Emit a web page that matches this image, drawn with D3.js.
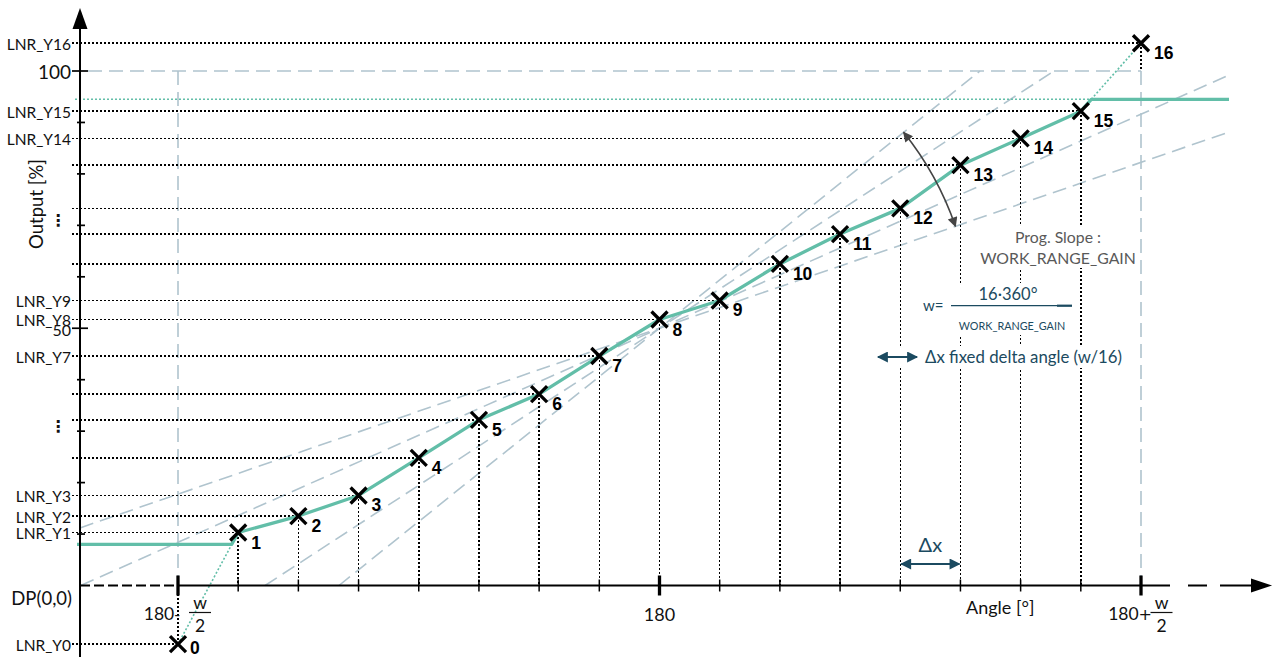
<!DOCTYPE html>
<html><head><meta charset="utf-8">
<script src="https://cdn.jsdelivr.net/npm/d3@7"></script>
<style>body{margin:0;background:#fff}svg{display:block}</style>
</head><body><svg id="chart" width="1274" height="657"></svg>
<script>
// ---------------- data ----------------
const pointIndex   = [0,1,2,3,4,5,6,7,8,9,10,11,12,13,14,15,16];
const pointNames   = ["0","1","2","3","4","5","6","7","8","9","10","11","12","13","14","15","16"];
const outputValues = [-11.4,10.3,13.5,17.5,24.8,32.2,37.2,44.6,51.7,55.4,62.5,68.3,73.3,81.7,86.9,92.2,105.4];
const levelLabels  = ["LNR_Y0","LNR_Y1","LNR_Y2","LNR_Y3","","","","LNR_Y7","LNR_Y8","LNR_Y9","","","","","LNR_Y14","LNR_Y15","LNR_Y16"];
const yTickValues  = [10,20,30,40,50,60,70,80,90,100];
const yTickLabels  = ["","","","","50","","","","","100"];
const xTickIndex   = [0,8,16];
const xTickLabels  = ["180-","180","180+"];
const clampLevels  = [8.0,94.5];
const fanCenter    = [8,50];
const fanSlopes    = [9.39,7.63,5.2,4.03];
const ellipsisLevels = [71,31];

// ---------------- setup ----------------
const svg = d3.select("#chart");
const x = d3.scaleLinear().domain([0,16]).range([178,1141]);
const y = d3.scaleLinear().domain([0,100]).range([585.5,71]);
const axisX = 80, axisEndX = 1272, axisTopY = 8, plotRight = 1229;
const iLeft = x.invert(axisX), iRight = x.invert(plotRight);
const pts = pointIndex.map((d,k)=>({i:d,v:outputValues[k],name:pointNames[k],lab:levelLabels[k]}));

const GREEN="#62bea8", GRAY="#b0c4ce", NAVY="#1b4a60", FONT="Lato, 'Open Sans', sans-serif";

const defs = svg.append("defs");
function marker(id,color,w,h){
  defs.append("marker").attr("id",id).attr("viewBox","0 0 10 10").attr("refX",9).attr("refY",5)
    .attr("markerWidth",w).attr("markerHeight",h).attr("markerUnits","userSpaceOnUse")
    .attr("orient","auto-start-reverse")
    .append("path").attr("d","M0,0L10,5L0,10z").attr("fill",color);
}
marker("arcHead","#444",12,10);
marker("navyHead",NAVY,12,11);

const dotted = sel => sel.attr("stroke","#000").attr("stroke-width",1.5).attr("stroke-dasharray","2,2")
  .attr("shape-rendering","crispEdges").attr("fill","none");
const dashed = sel => sel.attr("stroke",GRAY).attr("stroke-width",1.6).attr("stroke-dasharray","14,7").attr("fill","none");

// ---------------- fan (slope) lines ----------------
const gFan = svg.append("g");
fanSlopes.forEach(s=>{
  const a = Math.max(iLeft, fanCenter[0]-fanCenter[1]/s);
  const b = Math.min(iRight, fanCenter[0]+(100-fanCenter[1])/s);
  gFan.append("line")
    .attr("x1",x(a)).attr("y1",y(fanCenter[1]+s*(a-fanCenter[0])))
    .attr("x2",x(b)).attr("y2",y(fanCenter[1]+s*(b-fanCenter[0])))
    .call(dashed);
});
svg.append("line").attr("x1",axisX+8).attr("x2",x(16)).attr("y1",y(100)).attr("y2",y(100)).call(dashed);
[0,16].forEach(i=>svg.append("line").attr("x1",x(i)).attr("x2",x(i)).attr("y1",y(100)).attr("y2",y(0)).call(dashed));

// ---------------- black dotted guides ----------------
const gGuide = svg.append("g");
pts.forEach(p=>{
  gGuide.append("line").attr("x1",72).attr("x2",x(p.i)).attr("y1",y(p.v)).attr("y2",y(p.v)).call(dotted);
  let y1 = y(p.v), y2 = y(0);
  if (p.v > 100) y2 = y(100);
  gGuide.append("line").attr("x1",x(p.i)).attr("x2",x(p.i)).attr("y1",y1).attr("y2",y2).call(dotted);
});

// ---------------- clamped output curve ----------------
const p0=pts[0],p1=pts[1],p15=pts[15],p16=pts[16];
const iLow  = p0.i + (clampLevels[0]-p0.v)/(p1.v-p0.v)*(p1.i-p0.i);
const iHigh = p15.i + (clampLevels[1]-p15.v)/(p16.v-p15.v)*(p16.i-p15.i);
const curve = [[iLeft-0.05,clampLevels[0]],[iLow,clampLevels[0]]]
  .concat(pts.slice(1,16).map(p=>[p.i,p.v]))
  .concat([[iHigh,clampLevels[1]],[iRight,clampLevels[1]]]);
const line = d3.line().x(d=>x(d[0])).y(d=>y(d[1]));
const gDotG = svg.append("g").attr("stroke",GREEN).attr("stroke-width",1.6).attr("stroke-dasharray","2,2").attr("fill","none");
gDotG.append("path").attr("d",line([[p0.i,p0.v],[iLow,clampLevels[0]]]));
gDotG.append("path").attr("d",line([[iHigh,clampLevels[1]],[p16.i,p16.v]]));
gDotG.append("path").attr("d",line([[x.invert(75),clampLevels[1]],[iHigh,clampLevels[1]]]));
svg.append("path").attr("d",line(curve)).attr("fill","none").attr("stroke",GREEN).attr("stroke-width",3.3).attr("stroke-linejoin","round");

// ---------------- axes ----------------
const gAx = svg.append("g").attr("stroke","#000");
gAx.append("line").attr("x1",axisX).attr("x2",axisX).attr("y1",axisTopY+18).attr("y2",657).attr("stroke-width",2);
svg.append("path").attr("d",`M${axisX},${axisTopY}L${axisX-7.5},${axisTopY+21}L${axisX+7.5},${axisTopY+21}Z`).attr("fill","#000");
yTickValues.forEach((v,k)=>{
  const big = yTickLabels[k]!=="";
  gAx.append("line").attr("x1",big?72:77).attr("x2",big?88:85).attr("y1",y(v)).attr("y2",y(v)).attr("stroke-width",1.7);
});
const ay = y(0);
gAx.append("line").attr("x1",axisX).attr("x2",x(0)).attr("y1",ay).attr("y2",ay).attr("stroke-width",2).attr("stroke-dasharray","10,4");
gAx.append("line").attr("x1",x(0)).attr("x2",1170).attr("y1",ay).attr("y2",ay).attr("stroke-width",2);
gAx.append("line").attr("x1",1188).attr("x2",1207).attr("y1",ay).attr("y2",ay).attr("stroke-width",2);
gAx.append("line").attr("x1",1220).attr("x2",1255).attr("y1",ay).attr("y2",ay).attr("stroke-width",2);
svg.append("path").attr("d",`M${axisEndX},${ay}L${axisEndX-21},${ay-7}L${axisEndX-21},${ay+7}Z`).attr("fill","#000");
pts.slice(1,16).forEach(p=>{
  if (p.i===8) return;
  gAx.append("line").attr("x1",x(p.i)).attr("x2",x(p.i)).attr("y1",ay-6).attr("y2",ay+6).attr("stroke-width",1.5);
});
xTickIndex.forEach(i=>{
  gAx.append("line").attr("x1",x(i)).attr("x2",x(i)).attr("y1",ay-10).attr("y2",ay+10).attr("stroke-width",3.3);
});

// ---------------- markers ----------------
const gM = svg.append("g").attr("stroke","#000").attr("stroke-width",3.3).attr("stroke-linecap","butt");
pts.forEach(p=>{
  const cx=x(p.i), cy=y(p.v), r=8;
  gM.append("path").attr("d",`M${cx-r},${cy-r}L${cx+r},${cy+r}M${cx-r},${cy+r}L${cx+r},${cy-r}`);
});
svg.append("g").selectAll("text").data(pts).join("text")
  .attr("x",p=>x(p.i)+(p.i===0?12:13)).attr("y",p=>y(p.v)+(p.i===0?10:16))
  .attr("font-family","'Liberation Sans', Arial, sans-serif").attr("font-weight","bold").attr("font-size",17.5)
  .text(p=>p.name);

// ---------------- y labels ----------------
const gY = svg.append("g").attr("font-family",FONT).attr("fill","#111").attr("text-anchor","end").attr("dominant-baseline","central");
pts.filter(p=>p.lab!=="").forEach(p=>gY.append("text").attr("x",71).attr("y",y(p.v)+0.5).attr("font-size",15.5).text(p.lab));
yTickValues.forEach((v,k)=>{ if(yTickLabels[k]) gY.append("text").attr("x",71).attr("y",y(v)+(v===50?1.5:0.5)).attr("font-size",v===100?19:16).text(yTickLabels[k]); });
ellipsisLevels.forEach(v=>gY.append("text").attr("x",66).attr("y",y(v)).attr("font-size",16).attr("font-weight","bold").attr("font-family","'DejaVu Sans'").text("⋮"));
gY.append("text").attr("transform",`translate(36,204) rotate(-90)`).attr("text-anchor","middle").attr("font-size",18.5).text("Output [%]");
gY.append("text").attr("x",72).attr("y",598).attr("font-size",18.5).text("DP(0,0)");

// ---------------- x labels ----------------
const gX = svg.append("g").attr("font-family",FONT).attr("fill","#111").attr("font-size",17.5);
gX.append("text").attr("x",x(8)).attr("y",621).attr("text-anchor","middle").attr("font-size",18).text(xTickLabels[1]);
[[0,x(0)+2,x(0)+22],[2,x(16)+11,x(16)+20.5]].forEach(([k,endX,fx])=>{
  const lbl = xTickLabels[k];
  const t = gX.append("text").attr("x",endX).attr("y",620).attr("text-anchor","end");
  t.append("tspan").text(lbl.slice(0,-1));
  t.append("tspan").attr("font-family","'DejaVu Sans'").attr("font-size",16).text(lbl.slice(-1));
  gX.append("text").attr("x",fx).attr("y",609).attr("text-anchor","middle").text("w");
  gX.append("line").attr("x1",fx-11).attr("x2",fx+11).attr("y1",612.5).attr("y2",612.5).attr("stroke","#111").attr("stroke-width",1.2);
  gX.append("text").attr("x",fx).attr("y",632).attr("text-anchor","middle").text("2");
});
gX.append("text").attr("x",966).attr("y",614).attr("font-size",18).text("Angle [°]");

// ---------------- slope arc ----------------
const cx0=x(fanCenter[0]), cy0=y(fanCenter[1]), R=313;
const pxSlope = s => s*(y(0)-y(1))/(x(1)-x(0));
const ang = [fanSlopes[0],fanSlopes[3]].map(s=>Math.atan(pxSlope(s)));
const ap = ang.map(a=>[cx0+R*Math.cos(a), cy0-R*Math.sin(a)]);
svg.append("path").attr("d",`M${ap[0][0]},${ap[0][1]}A${R},${R} 0 0 1 ${ap[1][0]},${ap[1][1]}`)
  .attr("fill","none").attr("stroke","#444").attr("stroke-width",1.6)
  .attr("marker-start","url(#arcHead)").attr("marker-end","url(#arcHead)");

// ---------------- annotation boxes ----------------
const gA = svg.append("g").attr("font-family",FONT);
gA.append("rect").attr("x",978).attr("y",226).attr("width",162).attr("height",42).attr("fill","#fff");
gA.append("text").attr("x",1058).attr("y",243).attr("text-anchor","middle").attr("fill","#595959").attr("font-size",15.8).text("Prog. Slope :");
gA.append("text").attr("x",1058).attr("y",264).attr("text-anchor","middle").attr("fill","#595959").attr("font-size",15.8).text("WORK_RANGE_GAIN");
gA.append("rect").attr("x",920).attr("y",283).attr("width",156).attr("height",52).attr("fill","#fff");
gA.append("text").attr("x",923).attr("y",311).attr("fill",NAVY).attr("font-size",15).text("w=");
gA.append("text").attr("x",1008).attr("y",300).attr("text-anchor","middle").attr("fill",NAVY).attr("font-size",16.5).text("16·360°");
gA.append("line").attr("x1",951).attr("x2",1072).attr("y1",305.7).attr("y2",305.7).attr("stroke",NAVY).attr("stroke-width",1.3);
gA.append("line").attr("x1",1057).attr("x2",1072).attr("y1",305.7).attr("y2",305.7).attr("stroke",NAVY).attr("stroke-width",2.2);
gA.append("text").attr("x",1012).attr("y",330).attr("text-anchor","middle").attr("fill",NAVY).attr("font-size",10.8).text("WORK_RANGE_GAIN");
gA.append("rect").attr("x",873).attr("y",346).attr("width",254).attr("height",22).attr("fill","#fff");
gA.append("line").attr("x1",878).attr("x2",917).attr("y1",357).attr("y2",357).attr("stroke",NAVY).attr("stroke-width",2)
  .attr("marker-start","url(#navyHead)").attr("marker-end","url(#navyHead)");
gA.append("text").attr("x",925).attr("y",363).attr("fill",NAVY).attr("font-size",16.8).text("Δx fixed delta angle (w/16)");
gA.append("line").attr("x1",x(12)+1).attr("x2",x(13)-1).attr("y1",564).attr("y2",564).attr("stroke",NAVY).attr("stroke-width",2)
  .attr("marker-start","url(#navyHead)").attr("marker-end","url(#navyHead)");
gA.append("text").attr("x",(x(12)+x(13))/2).attr("y",552).attr("text-anchor","middle").attr("fill",NAVY).attr("font-size",20).text("Δx");
</script></body></html>
